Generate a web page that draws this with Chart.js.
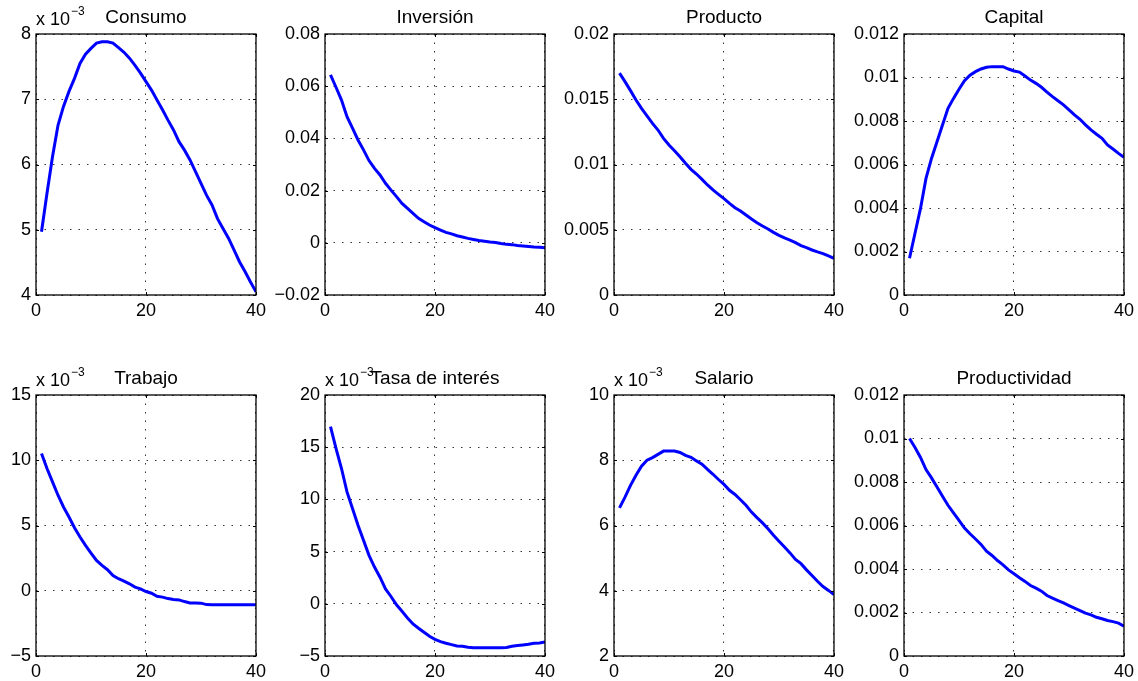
<!DOCTYPE html>
<html>
<head>
<meta charset="utf-8">
<script src="https://cdn.jsdelivr.net/npm/chart.js@4"></script>
<style>
  html, body { margin: 0; padding: 0; background: #ffffff; }
  body { width: 1138px; height: 681px; position: relative; overflow: hidden; }
  canvas { position: absolute; }
</style>
</head>
<body>
<script>
// ---- data (impulse responses, periods 1..40) ----
const periods = Array.from({length: 40}, (_, i) => i + 1);
const titles = ['Consumo', 'Inversión', 'Producto', 'Capital', 'Trabajo', 'Tasa de interés', 'Salario', 'Productividad'];

// values shown in units of 10^-3 where the panel carries the "x 10^-3" label
const consumo = [4.97, 5.56, 6.12, 6.6, 6.89, 7.12, 7.32, 7.55, 7.69, 7.78, 7.86, 7.88, 7.88, 7.86, 7.79, 7.72, 7.63, 7.52, 7.40, 7.27,
  7.14, 6.99, 6.84, 6.68, 6.53, 6.35, 6.22, 6.07, 5.89, 5.71, 5.53, 5.38, 5.17, 5.02, 4.87, 4.69, 4.51, 4.36, 4.20, 4.05];
const inversion = [0.0643, 0.0596, 0.0547, 0.0483, 0.0439, 0.0394, 0.0356, 0.0315, 0.0285, 0.0260, 0.0228, 0.0202, 0.0177, 0.0151, 0.0132, 0.0113, 0.0094, 0.0081, 0.0068, 0.0058,
  0.0049, 0.0040, 0.0034, 0.0027, 0.0022, 0.0017, 0.0013, 0.0009, 0.0006, 0.0003, 0.0001, -0.0003, -0.0006, -0.0007, -0.0010, -0.0012, -0.0014, -0.0016, -0.0017, -0.0019];
const producto = [0.0170, 0.01635, 0.01566, 0.01494, 0.0143, 0.01372, 0.01315, 0.01264, 0.0120, 0.01149, 0.01106, 0.0106, 0.01009, 0.00963, 0.00927, 0.00886, 0.00843, 0.00805, 0.00771, 0.00738,
  0.00702, 0.00669, 0.00644, 0.00613, 0.00582, 0.00554, 0.00529, 0.00506, 0.0048, 0.00457, 0.00437, 0.00421, 0.00401, 0.00378, 0.00363, 0.00345, 0.0033, 0.00317, 0.00299, 0.00281];
const capital = [0.00169, 0.00284, 0.00398, 0.00536, 0.00628, 0.00705, 0.00782, 0.00858, 0.00904, 0.00946, 0.00985, 0.01011, 0.01027, 0.01039, 0.01047, 0.0105, 0.0105, 0.0105, 0.01039, 0.0103,
  0.01025, 0.01007, 0.00988, 0.00973, 0.00955, 0.00933, 0.00912, 0.00893, 0.00874, 0.00851, 0.00828, 0.00808, 0.00782, 0.00759, 0.00739, 0.0072, 0.0069, 0.00671, 0.00651, 0.00633];
const trabajo = [10.52, 9.37, 8.34, 7.32, 6.42, 5.65, 4.83, 4.12, 3.48, 2.89, 2.32, 1.94, 1.61, 1.17, 0.92, 0.74, 0.53, 0.28, 0.15, -0.06,
  -0.19, -0.42, -0.49, -0.6, -0.67, -0.7, -0.83, -0.93, -0.93, -0.95, -1.06, -1.08, -1.08, -1.08, -1.08, -1.08, -1.08, -1.08, -1.08, -1.08];
const tasaInteres = [16.96, 14.88, 12.96, 10.72, 9.12, 7.52, 6.08, 4.64, 3.52, 2.55, 1.43, 0.70, -0.1, -0.71, -1.35, -1.93, -2.34, -2.73, -3.11, -3.40,
  -3.62, -3.78, -3.91, -4.04, -4.07, -4.17, -4.2, -4.2, -4.2, -4.2, -4.2, -4.2, -4.18, -4.07, -4.0, -3.94, -3.88, -3.78, -3.75, -3.66];
const salario = [6.54, 6.87, 7.23, 7.54, 7.82, 8.0, 8.08, 8.18, 8.28, 8.28, 8.28, 8.24, 8.15, 8.09, 7.98, 7.88, 7.72, 7.57, 7.41, 7.26,
  7.08, 6.95, 6.79, 6.62, 6.41, 6.24, 6.08, 5.90, 5.70, 5.52, 5.34, 5.16, 4.96, 4.83, 4.64, 4.47, 4.29, 4.13, 4.01, 3.88];
const productividad = [0.0100, 0.00959, 0.00913, 0.00857, 0.00819, 0.00777, 0.00734, 0.00693, 0.00658, 0.00624, 0.00588, 0.00562, 0.00538, 0.00513, 0.00482, 0.00462, 0.00439, 0.00419, 0.00396, 0.00378,
  0.0036, 0.00343, 0.00324, 0.00312, 0.00298, 0.00278, 0.00266, 0.00255, 0.00244, 0.00232, 0.0022, 0.00209, 0.00197, 0.00189, 0.00178, 0.00171, 0.00163, 0.00158, 0.00151, 0.00137];

// y-axis tick ranges: [min, max, step]
const yMin  = [4, -0.02, 0, 0, -5, -5, 2, 0];
const yMax  = [8, 0.08, 0.02, 0.012, 15, 20, 10, 0.012];
const yStep = [1, 0.02, 0.005, 0.002, 5, 5, 2, 0.002];
const xTicks = [0, 20, 40];
const hasExponent = [true, false, false, false, true, true, true, false];
const exponentText = '\u22123';

const series = [consumo, inversion, producto, capital, trabajo, tasaInteres, salario, productividad];

// ---- layout ----
const plotLefts = [36, 325, 614, 904];
const plotTops = [34, 395];
const plotW = 220, plotH = 261;
const padL = 60, padT = 34, padR = 15, padB = 30;
const FONT = '"Liberation Sans", Arial, Helvetica, sans-serif';

function fmt(v) {
  let s = String(+v.toFixed(6));
  if (s.charAt(0) === '-') s = '\u2212' + s.slice(1);
  return s;
}

const decor = {
  id: 'decor',
  afterDraw(chart) {
    const o = chart.options.plugins.decor;
    const a = chart.chartArea;
    const ctx = chart.ctx;
    ctx.save();
    // frame
    ctx.strokeStyle = '#000';
    ctx.lineWidth = 1.3;
    ctx.strokeRect(a.left, a.top, a.right - a.left, a.bottom - a.top);
    // inner tick marks
    ctx.lineWidth = 1;
    const xs = chart.scales.x, ys = chart.scales.y;
    ctx.beginPath();
    xs.ticks.forEach(t => {
      const p = Math.round(xs.getPixelForValue(t.value)) + 0.5;
      ctx.moveTo(p, a.bottom); ctx.lineTo(p, a.bottom - 3);
      ctx.moveTo(p, a.top); ctx.lineTo(p, a.top + 3);
    });
    ys.ticks.forEach(t => {
      const p = Math.round(ys.getPixelForValue(t.value)) + 0.5;
      ctx.moveTo(a.left, p); ctx.lineTo(a.left + 3, p);
      ctx.moveTo(a.right, p); ctx.lineTo(a.right - 3, p);
    });
    ctx.stroke();
    ctx.fillStyle = '#000';
    ctx.textBaseline = 'alphabetic';
    // exponent label
    if (o.exp) {
      ctx.font = '18px ' + FONT;
      ctx.textAlign = 'left';
      const base = 'x 10';
      ctx.fillText(base, a.left, a.top - 9);
      const w = ctx.measureText(base).width;
      ctx.font = '12px ' + FONT;
      ctx.fillText(exponentText, a.left + w + 1, a.top - 19);
    }
    // title
    ctx.font = '19px ' + FONT;
    ctx.textAlign = 'center';
    ctx.fillText(o.title, (a.left + a.right) / 2, a.top - 11);
    ctx.restore();
  }
};

for (let i = 0; i < 8; i++) {
  const row = Math.floor(i / 4), col = i % 4;
  const c = document.createElement('canvas');
  const W = padL + plotW + padR, H = padT + plotH + padB;
  c.width = W; c.height = H;
  c.style.width = W + 'px'; c.style.height = H + 'px';
  c.style.left = (plotLefts[col] - padL) + 'px';
  c.style.top = (plotTops[row] - padT) + 'px';
  document.body.appendChild(c);

  new Chart(c, {
    type: 'line',
    data: {
      datasets: [{
        data: periods.map((p, k) => ({x: p, y: series[i][k]})),
        borderColor: '#0000ff',
        borderWidth: 3,
        pointRadius: 0,
        tension: 0,
        fill: false
      }]
    },
    options: {
      responsive: false,
      animation: false,
      devicePixelRatio: 1,
      layout: { padding: { left: 0, top: padT, right: padR, bottom: 0 } },
      plugins: {
        legend: { display: false },
        title: { display: false },
        tooltip: { enabled: false },
        decor: { title: titles[i], exp: hasExponent[i] }
      },
      scales: {
        x: {
          type: 'linear',
          min: xTicks[0], max: xTicks[xTicks.length - 1],
          afterBuildTicks: s => { s.ticks = xTicks.map(v => ({value: v})); },
          afterFit: s => { s.height = padB; },
          grid: { color: '#333', lineWidth: 1, drawTicks: false },
          border: { display: false, dash: [1.5, 7] },
          ticks: { color: '#000', padding: 5, maxRotation: 0, font: { size: 18, family: FONT }, callback: v => fmt(v) }
        },
        y: {
          type: 'linear',
          min: yMin[i], max: yMax[i],
          ticks: { stepSize: yStep[i], color: '#000', padding: 5, font: { size: 18, family: FONT }, callback: v => fmt(v) },
          afterFit: s => { s.width = padL; },
          grid: { color: '#333', lineWidth: 1, drawTicks: false },
          border: { display: false, dash: [1.5, 7] }
        }
      }
    },
    plugins: [decor]
  });
}
</script>
</body>
</html>
